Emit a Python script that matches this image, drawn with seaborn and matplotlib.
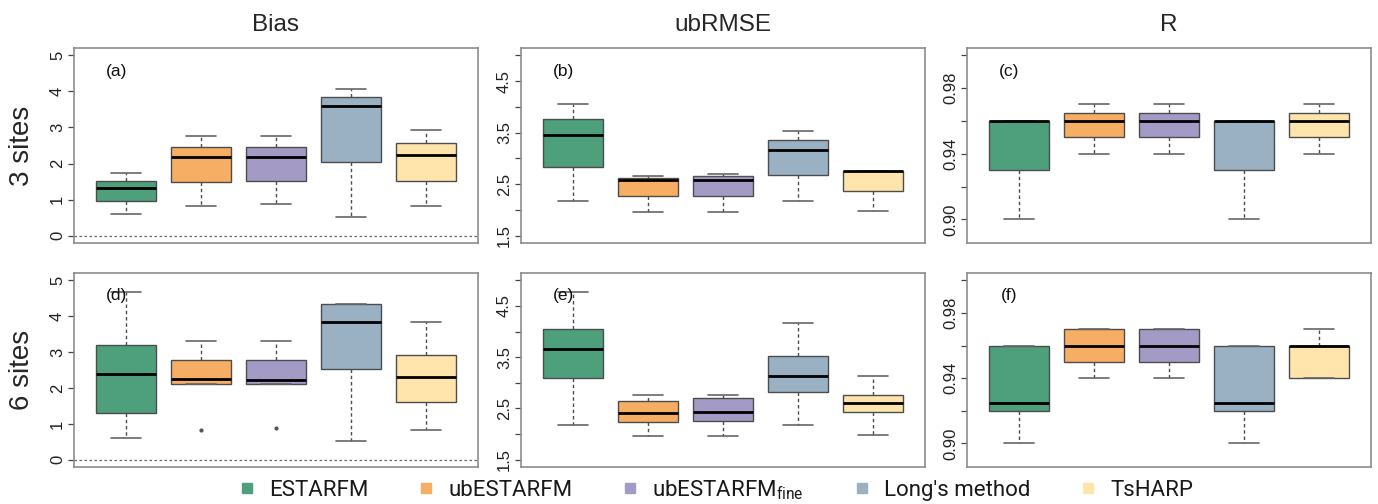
import numpy as np
import pandas as pd
import seaborn as sns
import matplotlib.pyplot as plt
from matplotlib.lines import Line2D

# ---- data: five values per method (one box each) ----
METHODS = ["ESTARFM", "ubESTARFM", "ubESTARFM_fine", "Long's method", "TsHARP"]
LEGEND_LABELS = ["ESTARFM", "ubESTARFM", r"ubESTARFM$_{\mathregular{fine}}$",
                 "Long's method", "TsHARP"]
COLORS = ["#4E9F7C", "#F5AE63", "#A39BC6", "#9AB1C4", "#FFE4AB"]

BIAS_3SITES = [
    [0.60, 0.95, 1.31, 1.51, 1.73],
    [0.82, 1.50, 2.18, 2.47, 2.76],
    [0.89, 1.52, 2.17, 2.46, 2.77],
    [0.51, 2.05, 3.59, 3.83, 4.06],
    [0.83, 1.53, 2.23, 2.58, 2.94],
]
BIAS_6SITES = [
    [0.60, 1.31, 2.40, 3.19, 4.67],
    [0.82, 2.12, 2.25, 2.78, 3.30],
    [0.89, 2.12, 2.22, 2.78, 3.30],
    [0.52, 2.53, 3.84, 4.35, 4.35],
    [0.84, 1.61, 2.31, 2.93, 3.83],
]
UBRMSE_3SITES = [
    [2.18, 2.83, 3.46, 3.76, 4.05],
    [1.96, 2.28, 2.58, 2.62, 2.66],
    [1.96, 2.28, 2.59, 2.65, 2.69],
    [2.17, 2.67, 3.17, 3.35, 3.53],
    [1.99, 2.37, 2.76, 2.76, 2.76],
]
UBRMSE_6SITES = [
    [2.18, 3.10, 3.65, 4.05, 4.77],
    [1.96, 2.24, 2.42, 2.65, 2.76],
    [1.96, 2.25, 2.44, 2.70, 2.77],
    [2.18, 2.83, 3.13, 3.53, 4.16],
    [1.99, 2.43, 2.60, 2.76, 3.13],
]
R_3SITES = [
    [0.90, 0.93, 0.96, 0.96, 0.96],
    [0.94, 0.95, 0.96, 0.965, 0.97],
    [0.94, 0.95, 0.96, 0.965, 0.97],
    [0.90, 0.93, 0.96, 0.96, 0.96],
    [0.94, 0.95, 0.96, 0.965, 0.97],
]
R_6SITES = [
    [0.90, 0.92, 0.925, 0.96, 0.96],
    [0.94, 0.95, 0.96, 0.97, 0.97],
    [0.94, 0.95, 0.96, 0.97, 0.97],
    [0.90, 0.92, 0.925, 0.96, 0.96],
    [0.94, 0.94, 0.96, 0.96, 0.97],
]

METRICS = ["Bias", "ubRMSE", "R"]
ROW_LABELS = ["3 sites", "6 sites"]
PANEL_TAGS = [["(a)", "(b)", "(c)"], ["(d)", "(e)", "(f)"]]
PANEL_DATA = [[BIAS_3SITES, UBRMSE_3SITES, R_3SITES],
              [BIAS_6SITES, UBRMSE_6SITES, R_6SITES]]

Y_TICKS = {
    "Bias": ([0, 1, 2, 3, 4, 5], ["0", "1", "2", "3", "4", "5"]),
    "ubRMSE": ([1.5, 2.0, 2.5, 3.0, 3.5, 4.0, 4.5, 5.0],
               ["1.5", "", "2.5", "", "3.5", "", "4.5", ""]),
    "R": ([0.90, 0.92, 0.94, 0.96, 0.98, 1.00],
          ["0.90", "", "0.94", "", "0.98", ""]),
}
Y_LIMITS = {"Bias": (-0.2, 5.2), "ubRMSE": (1.36, 5.14), "R": (0.8856, 1.0044)}

# ---- style ----
sns.set_style("white")
plt.rcParams["font.family"] = ["Liberation Sans", "DejaVu Sans"]
plt.rcParams["mathtext.fontset"] = "custom"
plt.rcParams["mathtext.rm"] = "Roboto"

W, H = 1378, 504
fig = plt.figure(figsize=(W / 100, H / 100), dpi=100)

col_left = [74, 521, 967]
col_width = 404
row_top = [48, 273]
row_height = [195, 194]

EDGE = "#4d4d4d"
FRAME = "#8c8c8c"

for r in range(2):
    for c in range(3):
        metric = METRICS[c]
        ax = fig.add_axes([col_left[c] / W,
                           1 - (row_top[r] + row_height[r]) / H,
                           col_width / W, row_height[r] / H])
        values = PANEL_DATA[r][c]
        df = pd.DataFrame({
            "method": np.repeat(METHODS, [len(v) for v in values]),
            "value": np.concatenate(values),
        })
        if metric == "Bias":
            ax.axhline(0, color="#666666", lw=0.9, ls=(0, (2, 2)), zorder=0)
        sns.boxplot(
            data=df, x="method", y="value", hue="method",
            order=METHODS, hue_order=METHODS, palette=COLORS,
            saturation=1, width=0.8, linecolor=EDGE, linewidth=1.0,
            legend=False, ax=ax,
            whiskerprops=dict(color=EDGE, linestyle=(0, (2.5, 2)), linewidth=1.0),
            capprops=dict(color="#666666", linewidth=1.2),
            medianprops=dict(color="black", linewidth=2.0),
            flierprops=dict(marker="o", markersize=2.0,
                            markerfacecolor="#555555",
                            markeredgecolor="#555555"),
        )
        ax.set_xlim(-0.7, 4.7)
        ax.set_ylim(*Y_LIMITS[metric])
        ax.set_xticks([])
        ax.set_xlabel("")
        ax.set_ylabel("")
        ticks, labels = Y_TICKS[metric]
        ax.set_yticks(ticks)
        ax.set_yticklabels(labels, rotation=90, va="center")
        ax.tick_params(axis="y", left=True, length=4.5, width=0.9,
                       color="#444444", pad=2, labelsize=12,
                       labelcolor="#222222")
        for sp in ax.spines.values():
            sp.set_visible(True)
            sp.set_color(FRAME)
            sp.set_linewidth(1.2)
        ax.text(0.105, 0.88 if r == 0 else 0.885, PANEL_TAGS[r][c],
                transform=ax.transAxes, ha="center", va="center",
                fontsize=12.5, color="#111111")
        if r == 0:
            ax.set_title(metric, fontsize=17.5, pad=12)

# row labels
for r, lab in enumerate(ROW_LABELS):
    yc = 1 - (row_top[r] + row_height[r] / 2) / H
    fig.text(22 / W, yc, lab, rotation=90, ha="center", va="center",
             fontsize=20)

# legend
handles = [Line2D([], [], marker="s", ls="none", markersize=7.5,
                  markerfacecolor=col, markeredgecolor=col)
           for col in COLORS]
fig.legend(handles, LEGEND_LABELS, loc="center",
           bbox_to_anchor=(0.52, 0.028), ncol=5, frameon=False,
           prop={"family": "Roboto", "size": 16},
           labelcolor="#1a1a1a",
           handlelength=0.6, handletextpad=0.7, columnspacing=2.3,
           borderpad=0, borderaxespad=0)

fig.savefig("out.png", dpi=100)
